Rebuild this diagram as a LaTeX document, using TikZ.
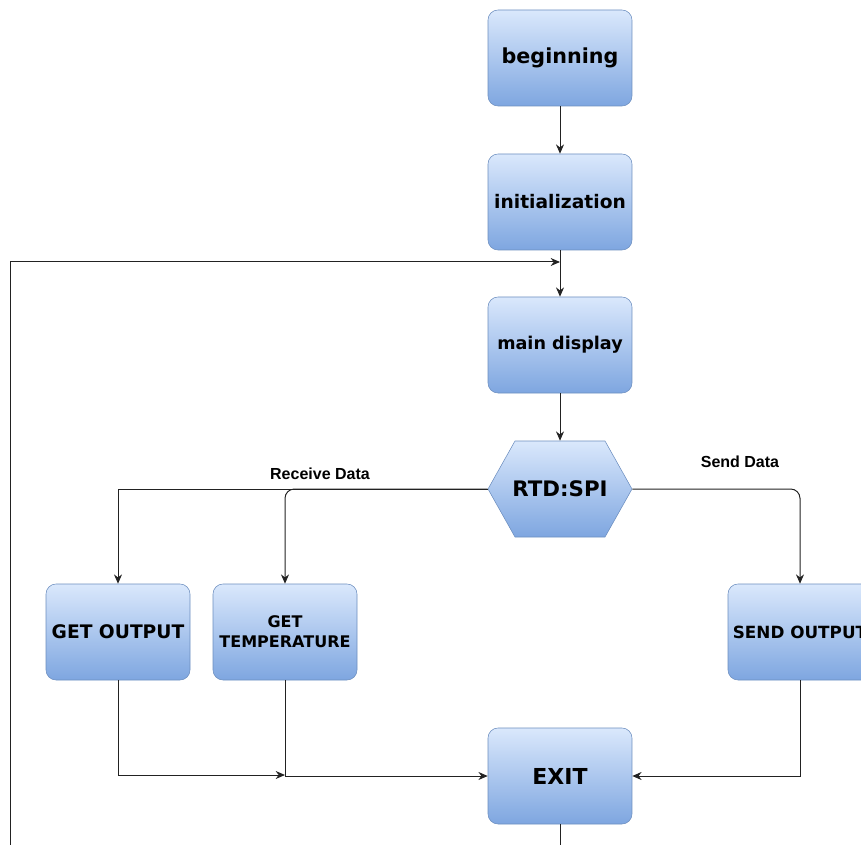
\documentclass[tikz,border=0pt]{standalone}
\usepackage{fontspec}
\setmainfont{DejaVu Sans}
\newfontfamily\lblfont{Liberation Sans}
\usetikzlibrary{arrows.meta}

\definecolor{boxtop}{HTML}{DAE8FC}
\definecolor{boxbot}{HTML}{7EA6E0}
\definecolor{boxline}{HTML}{6C8EBF}
\definecolor{linegray}{HTML}{222222}

\tikzset{
  procbox/.style={rectangle, rounded corners=7.5pt, draw=boxline, top color=boxtop, bottom color=boxbot,
    minimum width=108pt, minimum height=72pt, align=center, inner sep=1pt,
    font=\bfseries\fontsize{14}{15}\selectfont},
  wire/.style={draw=linegray, line width=0.75pt},
  arr/.style={wire, -{Stealth[length=7pt,width=6pt]}},
  edgelbl/.style={font=\lblfont\bfseries\fontsize{12}{14}\selectfont}
}

\begin{document}
\begin{tikzpicture}[x=0.75pt,y=0.75pt,yscale=-1,xscale=1]
                  \useasboundingbox (0,0) rectangle (861,845);

                  % boxes
                  \node[procbox, font=\bfseries\fontsize{15.5}{17}\selectfont] (begin) at (560,58) {beginning};
                  \node[procbox] (init) at (560,202) {initialization};
                  \node[procbox, font=\bfseries\fontsize{13.2}{15}\selectfont] (main) at (560,345) {main display};

                  \shade[draw=boxline, top color=boxtop, bottom color=boxbot]
                    (488,489) -- (515,441) -- (605,441) -- (632,489) -- (605,537) -- (515,537) -- cycle;
                  \node[minimum width=108pt, minimum height=72pt, inner sep=0pt,
                        font=\bfseries\fontsize{16}{18}\selectfont] (spi) at (560,489) {RTD:SPI};

                  \node[procbox] (getout) at (118,632) {GET OUTPUT};
                  \node[procbox, font=\bfseries\fontsize{12}{15}\selectfont] (gettemp) at (285,632) {GET\\TEMPERATURE};
                  \node[procbox, font=\bfseries\fontsize{12.6}{15}\selectfont] (sendout) at (800,632) {SEND OUTPUT};
                  \node[procbox, font=\bfseries\fontsize{16.5}{18}\selectfont] (exit) at (560,776) {EXIT};

                  % connectors
                  \coordinate (loopin) at (560,262);
                  \coordinate (join) at (285,775);
                  \draw[arr] (begin) -- (init);
                  \draw[arr] (init) -- (main);
                  \draw[arr] (main) -- (spi);
                  \draw[arr] (exit.south) |- (10,870) -- (10,262) -- (loopin);

                  \draw[arr] (spi.west) -| (getout.north);
                  \draw[arr, rounded corners=7pt] (spi.west) -| (gettemp.north);
                  \draw[arr, rounded corners=7pt] (spi.east) -| (sendout.north);
                  \draw (320,474) node[edgelbl] (rxlbl) {Receive Data};
                  \draw (740,462) node[edgelbl] (txlbl) {Send Data};

                  \draw[arr] (getout.south) |- (join);
                  \draw[arr] (gettemp.south) |- (exit.west);
                  \draw[arr] (sendout.south) |- (exit.east);
              \end{tikzpicture}
\end{document}
